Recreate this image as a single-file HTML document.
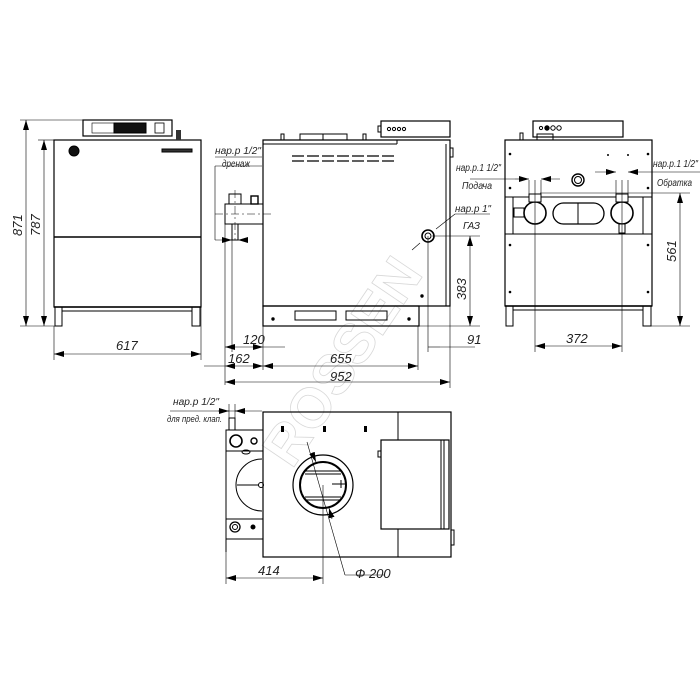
<!DOCTYPE html>
<html><head><meta charset="utf-8"><style>
html,body{margin:0;padding:0;background:#fff;width:700px;height:700px;overflow:hidden}
svg{display:block}
text{font-family:"Liberation Sans",sans-serif;font-style:italic;fill:#222}
.t{font-size:13px}
.s{font-size:10px}
</style></head><body>
<svg width="700" height="700" viewBox="0 0 700 700" xmlns="http://www.w3.org/2000/svg">
<defs>
<marker id="a" viewBox="0 0 10 6" refX="10" refY="3" markerWidth="10" markerHeight="6" orient="auto-start-reverse" markerUnits="userSpaceOnUse"><path d="M0,0L10,3L0,6z" fill="#000"/></marker>
</defs>
<!-- watermark -->
<text x="0" y="0" transform="translate(292,470) rotate(-56)" style="font-size:56px;font-style:normal;font-weight:bold;fill:none;stroke:#d8d8d8;stroke-width:0.8" >ROSSEN</text>

<g fill="none" stroke="#000" stroke-width="1">
<!-- FRONT VIEW -->
<rect x="83" y="120" width="89" height="16" stroke-width="1.2"/>
<rect x="92" y="123" width="22" height="10" stroke-width="0.6"/>
<rect x="114" y="123" width="32" height="10" fill="#111"/>
<rect x="155" y="123" width="9" height="10" stroke-width="0.8"/>
<rect x="54" y="140" width="147" height="167" stroke-width="1.2"/>
<line x1="54" y1="237" x2="201" y2="237" stroke-width="1.5"/>
<circle cx="74" cy="151" r="5" fill="#111"/>
<rect x="162" y="149" width="30" height="3" fill="#333"/>
<rect x="176" y="130" width="5" height="10" fill="#333" stroke="none"/>
<line x1="54" y1="307" x2="201" y2="307" stroke-width="1.5"/>
<rect x="55" y="307" width="7" height="19"/>
<rect x="192" y="307" width="8" height="19"/>
<line x1="62" y1="311" x2="192" y2="311"/>
<!-- front dims -->
<g stroke-width="0.6">
<line x1="20" y1="120" x2="83" y2="120"/>
<line x1="38" y1="140" x2="54" y2="140"/>
<line x1="20" y1="326" x2="55" y2="326"/>
<line x1="26" y1="120" x2="26" y2="326" marker-start="url(#a)" marker-end="url(#a)"/>
<line x1="44" y1="140" x2="44" y2="326" marker-start="url(#a)" marker-end="url(#a)"/>
<line x1="54" y1="326" x2="54" y2="360"/>
<line x1="201" y1="307" x2="201" y2="360"/>
<line x1="54" y1="354" x2="201" y2="354" marker-start="url(#a)" marker-end="url(#a)"/>
</g>

<!-- SIDE VIEW -->
<rect x="300" y="134" width="47" height="6"/>
<line x1="323" y1="134" x2="323" y2="140"/>
<rect x="281" y="134" width="3" height="6"/>
<rect x="363" y="134" width="3" height="6"/>
<rect x="381" y="121" width="69" height="16" stroke-width="1.2"/>
<rect x="378" y="126" width="3" height="6"/>
<circle cx="389" cy="129" r="1.6"/><circle cx="394" cy="129" r="1.6"/><circle cx="399" cy="129" r="1.6"/><circle cx="404" cy="129" r="1.6"/>
<path d="M263,140 H450 V306 H263 Z" stroke-width="1.2"/>
<line x1="263" y1="144" x2="397" y2="144"/>
<line x1="397" y1="140" x2="397" y2="144"/>
<line x1="446" y1="144" x2="446" y2="306"/>
<rect x="450" y="148" width="3" height="9"/>
<g stroke-width="1.2">
<line x1="292" y1="156" x2="395" y2="156" stroke-dasharray="12,3"/>
<line x1="292" y1="161" x2="395" y2="161" stroke-dasharray="12,3"/>
</g>
<rect x="263" y="306" width="156" height="20" stroke-width="1.2"/>
<rect x="295" y="311" width="41" height="9"/>
<rect x="346" y="311" width="41" height="9"/>
<circle cx="273" cy="319" r="1.2" fill="#000"/><circle cx="409" cy="319" r="1.2" fill="#000"/>
<circle cx="422" cy="296" r="1.2" fill="#000"/>
<!-- pipe block -->
<rect x="225" y="204" width="38" height="20"/>
<path d="M229,204 V194 H241 V204"/>
<rect x="251" y="196" width="7" height="8" stroke-width="1.4"/>
<rect x="232" y="224" width="6" height="16"/>
<line x1="215" y1="214" x2="272" y2="214" stroke-width="0.5" stroke-dasharray="8,3,2,3"/>
<line x1="235" y1="190" x2="235" y2="240" stroke-width="0.5" stroke-dasharray="8,3,2,3"/>
<!-- gas -->
<circle cx="428" cy="236" r="6" stroke-width="1.6"/>
<circle cx="428" cy="236" r="3"/>
<g stroke-width="0.6">
<line x1="215" y1="166" x2="215" y2="240"/>
<line x1="215" y1="240" x2="232" y2="240"/>
<line x1="215" y1="157" x2="262" y2="157"/>
<line x1="215" y1="166" x2="262" y2="166"/>
<line x1="222" y1="240" x2="232" y2="240" marker-end="url(#a)"/>
<line x1="248" y1="240" x2="238" y2="240" marker-end="url(#a)"/>
<line x1="232" y1="240" x2="232" y2="352"/>
<line x1="225" y1="224" x2="225" y2="385"/>
<line x1="263" y1="306" x2="263" y2="370"/>
<line x1="418" y1="326" x2="418" y2="370"/>
<line x1="450" y1="306" x2="450" y2="388"/>
<line x1="225" y1="347" x2="263" y2="347" marker-start="url(#a)" marker-end="url(#a)"/>
<line x1="263" y1="347" x2="285" y2="347"/>
<line x1="204" y1="366" x2="225" y2="366" />
<line x1="225" y1="366" x2="263" y2="366" marker-start="url(#a)" marker-end="url(#a)"/>
<line x1="263" y1="366" x2="418" y2="366" marker-start="url(#a)" marker-end="url(#a)"/>
<line x1="225" y1="382" x2="450" y2="382" marker-start="url(#a)" marker-end="url(#a)"/>
<line x1="428" y1="236" x2="428" y2="352"/>
<line x1="428" y1="347" x2="440" y2="347"/>
<line x1="440" y1="347" x2="475" y2="347"/>
<line x1="432" y1="236" x2="480" y2="236"/>
<line x1="419" y1="326" x2="480" y2="326"/>
<line x1="470" y1="236" x2="470" y2="326" marker-start="url(#a)" marker-end="url(#a)"/>
<line x1="436" y1="229" x2="455" y2="214"/>
<line x1="455" y1="214" x2="490" y2="214"/>
<line x1="420" y1="243" x2="412" y2="250"/>
</g>

<!-- REAR VIEW -->
<rect x="533" y="121" width="90" height="16" stroke-width="1.2"/>
<circle cx="541" cy="128" r="1.6"/><circle cx="547" cy="128" r="2.2" fill="#000"/><circle cx="553" cy="128" r="2.2"/><circle cx="559" cy="128" r="2.2"/>
<rect x="537" y="134" width="16" height="6"/>
<rect x="520" y="133" width="3" height="7"/>
<rect x="505" y="140" width="147" height="166" stroke-width="1.2"/>
<circle cx="578" cy="180" r="6" stroke-width="1.4"/><circle cx="578" cy="180" r="3.5"/>
<line x1="505" y1="197" x2="652" y2="197"/>
<line x1="505" y1="234" x2="652" y2="234"/>
<line x1="513" y1="197" x2="513" y2="234"/>
<line x1="643" y1="197" x2="643" y2="234"/>
<circle cx="535" cy="213" r="11" stroke-width="1.6"/>
<circle cx="622" cy="213" r="11" stroke-width="1.6"/>
<rect x="529" y="194" width="12" height="8" fill="#fff"/>
<rect x="616" y="194" width="12" height="8" fill="#fff"/>
<rect x="619" y="224" width="6" height="9" fill="#fff"/>
<rect x="514" y="208" width="10" height="9"/>
<rect x="553" y="203" width="51" height="21" rx="10.5" stroke-width="1.3"/>
<line x1="578" y1="203" x2="578" y2="224"/>
<line x1="505" y1="306" x2="652" y2="306" stroke-width="1.5"/>
<rect x="506" y="306" width="7" height="20"/>
<rect x="643" y="306" width="8" height="20"/>
<line x1="513" y1="310" x2="643" y2="310"/>
<g fill="#000" stroke="none">
<circle cx="510" cy="154" r="1.3"/><circle cx="648" cy="154" r="1.3"/><circle cx="510" cy="188" r="1.3"/><circle cx="648" cy="188" r="1.3"/>
<circle cx="510" cy="245" r="1.3"/><circle cx="648" cy="245" r="1.3"/><circle cx="510" cy="292" r="1.3"/><circle cx="648" cy="292" r="1.3"/>
<circle cx="608" cy="155" r="1"/><circle cx="628" cy="155" r="1"/>
</g>
<g stroke-width="0.6">
<line x1="535" y1="180" x2="535" y2="352"/>
<line x1="622" y1="180" x2="622" y2="352"/>
<line x1="529" y1="180" x2="529" y2="195"/>
<line x1="541" y1="180" x2="541" y2="195"/>
<line x1="616" y1="180" x2="616" y2="195"/>
<line x1="628" y1="180" x2="628" y2="195"/>
<line x1="515" y1="179" x2="529" y2="179" marker-end="url(#a)"/>
<line x1="560" y1="179" x2="541" y2="179" marker-end="url(#a)"/>
<line x1="470" y1="179" x2="515" y2="179"/>
<line x1="595" y1="172" x2="616" y2="172" marker-end="url(#a)"/>
<line x1="645" y1="172" x2="628" y2="172" marker-end="url(#a)"/>
<line x1="645" y1="172" x2="700" y2="172"/>
<line x1="540" y1="193" x2="690" y2="193"/>
<line x1="651" y1="326" x2="690" y2="326"/>
<line x1="680" y1="193" x2="680" y2="326" marker-start="url(#a)" marker-end="url(#a)"/>
<line x1="535" y1="346" x2="622" y2="346" marker-start="url(#a)" marker-end="url(#a)"/>
</g>

<!-- PLAN VIEW -->
<rect x="263" y="412" width="188" height="145" stroke-width="1.2"/>
<line x1="398" y1="412" x2="398" y2="557"/>
<rect x="381" y="440" width="68" height="89" fill="#fff" stroke-width="1.2"/>
<line x1="441" y1="440" x2="441" y2="529"/><line x1="444" y1="440" x2="444" y2="529"/>
<rect x="378" y="451" width="3" height="6"/>
<rect x="451" y="530" width="3" height="15"/>
<g fill="#000" stroke="none">
<rect x="281" y="426" width="3" height="6"/><rect x="323" y="426" width="3" height="6"/><rect x="364" y="426" width="3" height="6"/>
</g>
<circle cx="323" cy="485" r="30" stroke-width="1.2"/>
<circle cx="323" cy="485" r="23" stroke-width="2"/>
<line x1="305" y1="471" x2="341" y2="471"/><line x1="305" y1="474" x2="341" y2="474"/>
<line x1="305" y1="497" x2="341" y2="497"/><line x1="305" y1="500" x2="341" y2="500"/>
<line x1="332" y1="484" x2="346" y2="484"/><line x1="341" y1="480" x2="341" y2="488"/>
<!-- left block -->
<rect x="226" y="430" width="37" height="21"/>
<rect x="229" y="418" width="6" height="12"/>
<circle cx="236" cy="441" r="6" stroke-width="1.6"/>
<circle cx="254" cy="441" r="3" stroke-width="1.4"/>
<ellipse cx="246" cy="452" rx="4" ry="2"/>
<line x1="226" y1="451" x2="226" y2="552"/>
<path d="M262,459 A26,26 0 0 0 262,511" stroke-width="1"/>
<line x1="237" y1="485" x2="259" y2="485"/>
<circle cx="261" cy="485" r="2.5"/>
<rect x="226" y="519" width="37" height="20"/>
<circle cx="235" cy="527" r="5" stroke-width="1.3"/><circle cx="235" cy="527" r="2.5"/>
<circle cx="253" cy="527" r="2" fill="#000"/>
<g stroke-width="0.6">
<line x1="226" y1="539" x2="226" y2="584"/>
<line x1="323" y1="485" x2="323" y2="584"/>
<line x1="226" y1="578" x2="323" y2="578" marker-start="url(#a)" marker-end="url(#a)"/>
<line x1="307" y1="442" x2="345" y2="575"/>
<line x1="345" y1="575" x2="385" y2="575"/>
<line x1="312" y1="453" x2="316" y2="462" marker-end="url(#a)"/>
<line x1="332" y1="519" x2="329" y2="508" marker-end="url(#a)"/>
<line x1="170" y1="411" x2="262" y2="411"/>
<line x1="218" y1="411" x2="229" y2="411" marker-end="url(#a)"/>
<line x1="245" y1="411" x2="235" y2="411" marker-end="url(#a)"/>
<line x1="229" y1="404" x2="229" y2="418"/><line x1="235" y1="404" x2="235" y2="418"/>
</g>
</g>

<!-- TEXT -->
<text class="t" transform="translate(22,236) rotate(-90)">871</text>
<text class="t" transform="translate(40,236) rotate(-90)">787</text>
<text class="t" x="116" y="350">617</text>
<text class="s" x="215" y="154" textLength="46" lengthAdjust="spacingAndGlyphs">нар.р 1/2"</text>
<text class="s" x="222" y="167" textLength="28" lengthAdjust="spacingAndGlyphs">дренаж</text>
<text class="t" x="243" y="344">120</text>
<text class="t" x="228" y="363">162</text>
<text class="t" x="330" y="363">655</text>
<text class="t" x="330" y="381">952</text>
<text class="t" x="467" y="344">91</text>
<text class="t" transform="translate(466,300) rotate(-90)">383</text>
<text class="s" x="456" y="171" textLength="45" lengthAdjust="spacingAndGlyphs">нар.р.1 1/2"</text>
<text class="s" x="462" y="189" textLength="30" lengthAdjust="spacingAndGlyphs">Подача</text>
<text class="s" x="455" y="212" textLength="36" lengthAdjust="spacingAndGlyphs">нар.р  1"</text>
<text class="s" x="463" y="229">ГАЗ</text>
<text class="s" x="653" y="167" textLength="45" lengthAdjust="spacingAndGlyphs">нар.р.1 1/2"</text>
<text class="s" x="657" y="186" textLength="35" lengthAdjust="spacingAndGlyphs">Обратка</text>
<text class="t" transform="translate(676,262) rotate(-90)">561</text>
<text class="t" x="566" y="343">372</text>
<text class="s" x="173" y="405" textLength="46" lengthAdjust="spacingAndGlyphs">нар.р  1/2"</text>
<text class="s" x="167" y="422" style="font-size:9px" textLength="55" lengthAdjust="spacingAndGlyphs">для пред. клап.</text>
<text class="t" x="258" y="575">414</text>
<text class="t" x="355" y="578">Ф 200</text>
</svg>
</body></html>
